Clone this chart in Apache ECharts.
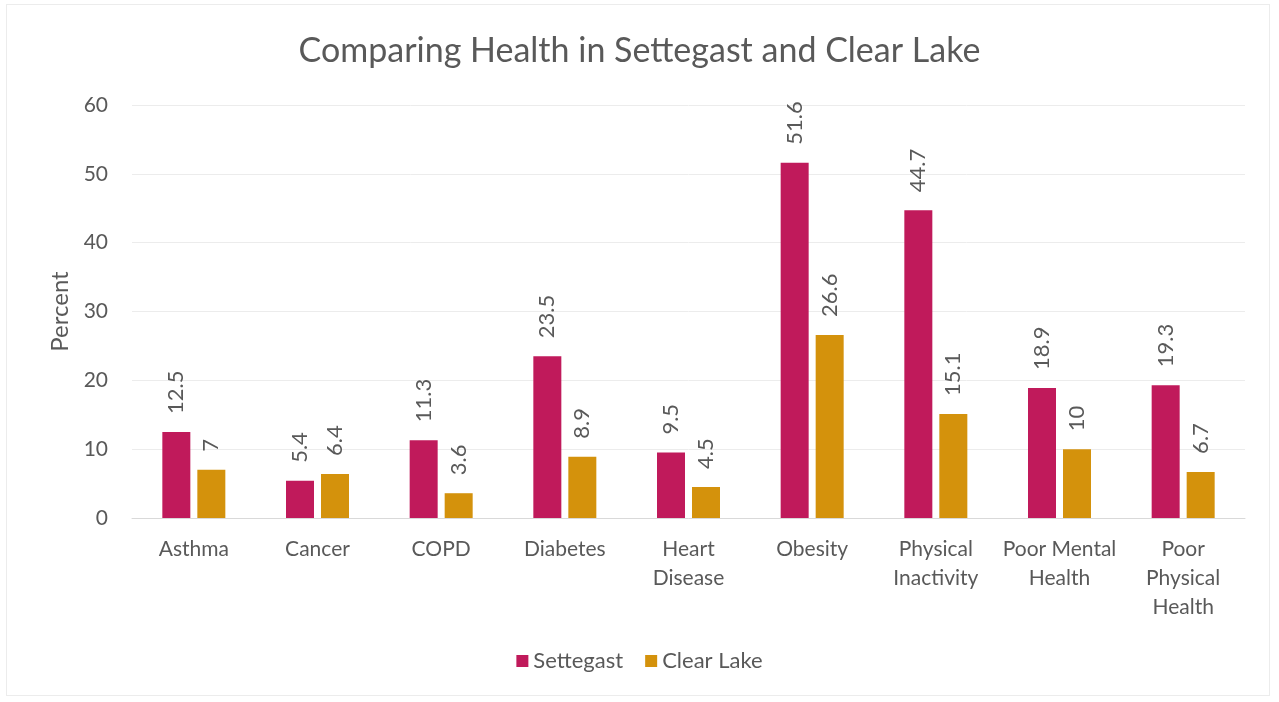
<!DOCTYPE html>
<html>
<head>
<meta charset="utf-8">
<script src="https://cdn.jsdelivr.net/npm/echarts@6/dist/echarts.min.js"></script>
<style>
  html, body { margin: 0; padding: 0; background: #ffffff; }
  #frame { position: absolute; left: 6px; top: 4px; width: 1264px; height: 692px; border: 1px solid #ececec; box-sizing: border-box; }
  #chart { width: 1279px; height: 702px; }
</style>
</head>
<body>
<div id="frame"></div>
<div id="chart"></div>
<script>
// Health indicators compared between two Houston neighbourhoods (percent)
const categories = ['Asthma', 'Cancer', 'COPD', 'Diabetes', 'Heart\nDisease', 'Obesity',
                    'Physical\nInactivity', 'Poor Mental\nHealth', 'Poor\nPhysical\nHealth'];
const settegast = [12.5, 5.4, 11.3, 23.5, 9.5, 51.6, 44.7, 18.9, 19.3];
const clearLake = [7, 6.4, 3.6, 8.9, 4.5, 26.6, 15.1, 10, 6.7];
const yTicks = [0, 10, 20, 30, 40, 50, 60];

const FONT = 'Lato, "Open Sans", sans-serif';
const TEXT = '#595959';

const barLabel = {
  show: true,
  position: 'top',
  rotate: 90,
  align: 'left',
  verticalAlign: 'middle',
  distance: 18,
  color: TEXT,
  fontFamily: FONT,
  fontSize: 22
};

const chart = echarts.init(document.getElementById('chart'));
chart.setOption({
  animation: false,
  backgroundColor: 'transparent',
  title: {
    text: 'Comparing Health in Settegast and Clear Lake',
    left: 'center',
    top: 29,
    textStyle: { fontFamily: FONT, fontSize: 34, fontWeight: 'normal', color: TEXT }
  },
  legend: {
    data: ['Settegast', 'Clear Lake'],
    bottom: 25,
    left: 'center',
    itemWidth: 12,
    itemHeight: 12,
    itemGap: 22,
    icon: 'rect',
    textStyle: { fontFamily: FONT, fontSize: 22, color: TEXT }
  },
  grid: { left: 132, right: 34, top: 105, bottom: 184 },
  xAxis: {
    type: 'category',
    data: categories,
    axisTick: { show: false },
    axisLine: { lineStyle: { color: '#d9d9d9' } },
    axisLabel: {
      interval: 0,
      margin: 17,
      lineHeight: 29,
      fontFamily: FONT,
      fontSize: 21,
      color: TEXT
    }
  },
  yAxis: {
    type: 'value',
    min: yTicks[0],
    max: yTicks[yTicks.length - 1],
    interval: 10,
    name: 'Percent',
    nameLocation: 'middle',
    nameGap: 60,
    nameTextStyle: { fontFamily: FONT, fontSize: 24, color: TEXT },
    axisLine: { show: false },
    axisTick: { show: false },
    axisLabel: { margin: 24, fontFamily: FONT, fontSize: 21, color: TEXT },
    splitLine: { lineStyle: { color: '#ececec' } }
  },
  series: [
    {
      name: 'Settegast',
      type: 'bar',
      data: settegast,
      barWidth: 28,
      barGap: '25%',
      itemStyle: { color: '#C01A5B' },
      label: barLabel
    },
    {
      name: 'Clear Lake',
      type: 'bar',
      data: clearLake,
      barWidth: 28,
      itemStyle: { color: '#D4920C' },
      label: barLabel
    }
  ]
});
</script>
</body>
</html>
